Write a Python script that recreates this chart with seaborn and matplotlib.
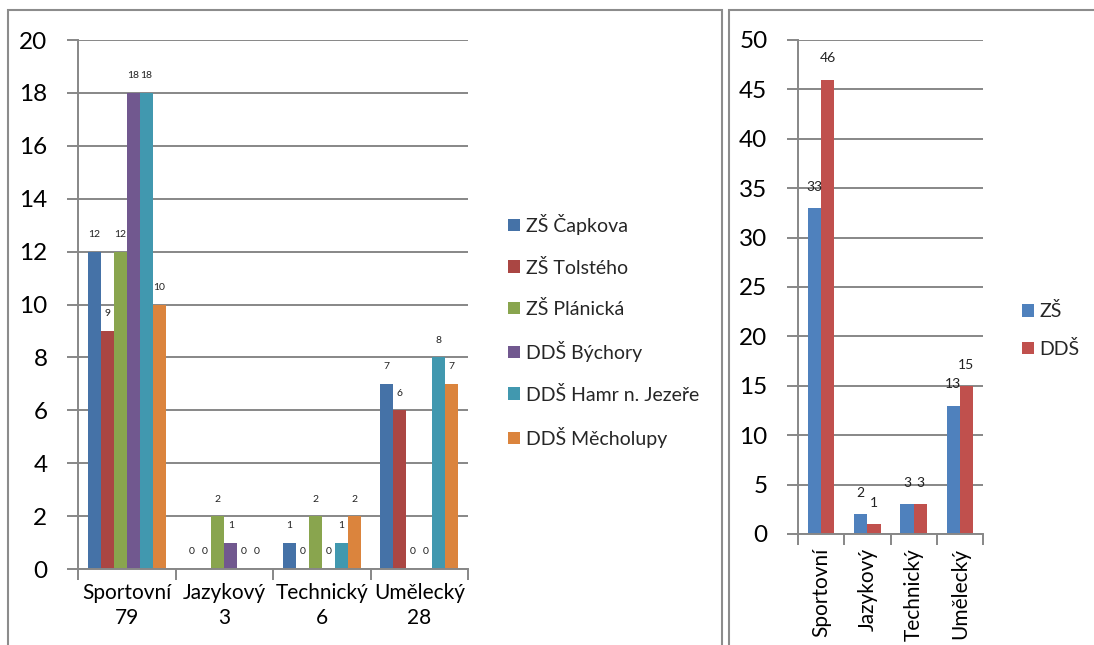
import numpy as np
import pandas as pd
import matplotlib
matplotlib.use("Agg")
import matplotlib.pyplot as plt
import seaborn as sns
from matplotlib.patches import Rectangle, Patch
from matplotlib.ticker import FixedLocator

# ---------------- data ----------------
categories = ["Sportovní", "Jazykový", "Technický", "Umělecký"]
totals = [79, 3, 6, 28]
schools = ["ZŠ Čapkova", "ZŠ Tolstého", "ZŠ Plánická",
           "DDŠ Býchory", "DDŠ Hamr n. Jezeře", "DDŠ Měcholupy"]
capkova = [12, 0, 1, 7]
tolsteho = [9, 0, 0, 6]
planicka = [12, 2, 2, 0]
bychory = [18, 1, 0, 0]
hamr = [18, 0, 1, 8]
mecholupy = [10, 0, 2, 7]

groups = ["ZŠ", "DDŠ"]
zs = [33, 2, 3, 13]
dds = [46, 1, 3, 15]

left_ticks = list(range(0, 21, 2))
right_ticks = list(range(0, 51, 5))

# ---------------- style ----------------
sns.set_theme(style="white")
plt.rcParams["font.family"] = ["Lato", "DejaVu Sans"]

left_colors = ["#4572A7", "#AA4643", "#89A54E", "#71588F", "#4198AF", "#DB843D"]
right_colors = ["#4F81BD", "#C0504D"]
GRID = "#878787"

W, H = 1094, 645
fig = plt.figure(figsize=(W / 100, H / 100), dpi=100)

def px_axes(x0, x1, ytop, ybot):
    return fig.add_axes([x0 / W, (H - ybot) / H, (x1 - x0) / W, (ybot - ytop) / H])

# long dataframes
series_left = [capkova, tolsteho, planicka, bychory, hamr, mecholupy]
df_left = pd.DataFrame(
    [(c, s, v[i]) for s, v in zip(schools, series_left) for i, c in enumerate(categories)],
    columns=["kat", "skola", "n"])
df_right = pd.DataFrame(
    [(c, g, v[i]) for g, v in zip(groups, [zs, dds]) for i, c in enumerate(categories)],
    columns=["kat", "skupina", "n"])

def style_axes(ax, ymax, yticks, tick_pad):
    ax.set_xlim(-0.5, 3.5)
    ax.set_ylim(0, ymax)
    ax.set_yticks(yticks)
    ax.yaxis.grid(True, color=GRID, lw=1.4)
    ax.xaxis.grid(False)
    ax.set_axisbelow(True)
    for sp in ["top", "right"]:
        ax.spines[sp].set_visible(False)
    for sp in ["left", "bottom"]:
        ax.spines[sp].set_color(GRID)
        ax.spines[sp].set_linewidth(1.4)
    ax.tick_params(axis="y", which="major", direction="out", length=8, width=1.4,
                   color=GRID, labelsize=17.5, pad=tick_pad, left=True, labelcolor="black")
    ax.xaxis.set_minor_locator(FixedLocator([-0.5, 0.5, 1.5, 2.5, 3.5]))
    ax.tick_params(axis="x", which="minor", direction="out", length=8, width=1.4,
                   color=GRID, bottom=True)
    ax.tick_params(axis="x", which="major", length=0, labelsize=15, labelcolor="black")
    ax.set_xlabel("")
    ax.set_ylabel("")

# ---------------- left chart ----------------
axL = px_axes(78, 468, 40, 569)
sns.barplot(data=df_left, x="kat", y="n", hue="skola", order=categories,
            hue_order=schools, palette=left_colors, width=0.8, saturation=1,
            errorbar=None, legend=False, linewidth=0, ax=axL)
style_axes(axL, 20, left_ticks, 14)
axL.set_xticks(range(len(categories)))
axL.set_xticklabels([f"{c}\n{t}" for c, t in zip(categories, totals)], linespacing=1.35)
axL.tick_params(axis="x", which="major", pad=10)
for cont in axL.containers:
    axL.bar_label(cont, labels=[f"{int(round(b.get_height()))}" for b in cont],
                  padding=9, fontsize=7.5, color="#222222")

fig.legend(handles=[Patch(facecolor=c, edgecolor="none") for c in left_colors],
           labels=schools, loc="center left", bbox_to_anchor=(508 / W, 1 - 331 / H),
           frameon=False, fontsize=14, handlelength=0.6, handleheight=0.6,
           handletextpad=0.3, labelspacing=1.2, borderpad=0, borderaxespad=0)

# ---------------- right chart ----------------
axR = px_axes(798, 983, 40, 534)
sns.barplot(data=df_right, x="kat", y="n", hue="skupina", order=categories,
            hue_order=groups, palette=right_colors, width=0.57, saturation=1,
            errorbar=None, legend=False, linewidth=0, ax=axR)
style_axes(axR, 50, right_ticks, 14)
axR.set_xticks(range(len(categories)))
axR.set_xticklabels(categories, rotation=90)
axR.tick_params(axis="x", which="major", pad=10)
for cont in axR.containers:
    axR.bar_label(cont, labels=[f"{int(round(b.get_height()))}" for b in cont],
                  padding=11, fontsize=10, color="#222222")

fig.legend(handles=[Patch(facecolor=c, edgecolor="none") for c in right_colors],
           labels=groups, loc="center left", bbox_to_anchor=(1022 / W, 1 - 330 / H),
           frameon=False, fontsize=14, handlelength=0.6, handleheight=0.6,
           handletextpad=0.3, labelspacing=1.0, borderpad=0, borderaxespad=0)

# ---------------- panel borders ----------------
fig.add_artist(Rectangle((8 / W, -0.1), (722 - 8) / W, 1.1 - 10 / H,
                         transform=fig.transFigure, fill=False,
                         edgecolor="#8c8c8c", lw=1.5, clip_on=False))
fig.add_artist(Rectangle((729 / W, -0.1), 0.5, 1.1 - 10 / H,
                         transform=fig.transFigure, fill=False,
                         edgecolor="#8c8c8c", lw=1.5, clip_on=False))

fig.savefig("out.png", dpi=100)
